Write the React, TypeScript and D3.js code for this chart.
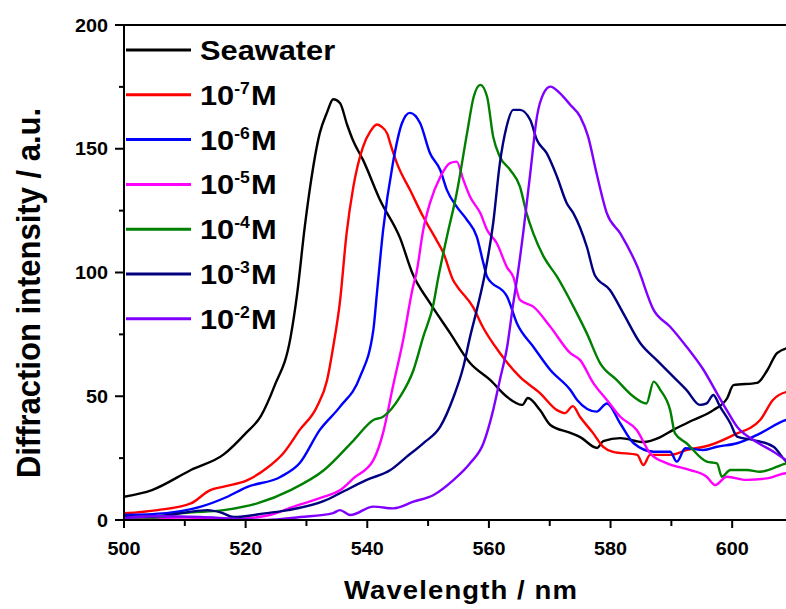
import { useMemo } from 'react';
import { scaleLinear, line, curveMonotoneX } from 'd3';

type Pt = [number, number];

// wavelength (nm), diffraction intensity (a.u.)
const seawater: Pt[] = [
  [500, 9.4], [504.6, 12.1], [511, 20.2], [516.4, 26.5], [520, 35], [522.5, 42], [524.7, 53.9],
  [527.4, 74], [528.5, 92], [529.7, 118], [530.6, 134.5], [532.2, 156.4], [533.4, 164.8],
  [534.4, 170], [535.5, 168.5], [536.7, 159.6], [537.7, 153.1], [539.3, 145.5], [542.1, 129.3],
  [545.4, 113.9], [547.4, 99.8], [550.3, 87.7], [553.6, 75.6], [556.9, 63.4], [560.2, 56.6],
  [563, 49.7], [565.5, 46.5], [566.4, 49.3], [568.4, 44.4], [570.1, 38.4], [573.4, 35.2],
  [575, 33.5], [577.8, 29.1], [578.8, 31.9], [581.6, 33.1], [585.4, 31.5], [588.2, 33.5],
  [590.3, 36.4], [593.6, 40.4], [596.9, 44.4], [599.2, 49.3], [600.2, 54.5], [604.1, 55.4],
  [605.8, 60.6], [607.4, 67.5], [610, 70],
];

const m7: Pt[] = [
  [500, 2.7], [505.5, 4], [511, 6.7], [514.1, 12], [516.4, 13.5], [520.2, 16], [523.5, 21],
  [526.2, 27], [528.9, 36.4], [531.7, 45.7], [533.4, 56.6], [534.4, 70], [535.5, 88],
  [536.6, 115.8], [537.7, 134.5], [539.3, 150.8], [540.5, 157], [541.6, 159.8], [542.3, 159],
  [543.3, 156], [543.8, 152], [544.9, 144], [547.1, 133], [549.2, 122.5], [551.4, 113],
  [552.5, 108], [554.1, 97], [554.8, 94.3], [557.4, 86], [559, 78], [561.8, 67.5],
  [565.1, 57.8], [568.4, 51.3], [571.2, 44.4], [572.5, 43.2], [573.8, 46], [575, 41.6],
  [577.1, 35.2], [578.8, 29.5], [580.4, 27.5], [584.4, 26.3], [585.4, 22.2], [586.5, 26.3],
  [589.8, 26.3], [592.6, 28.3], [596.4, 30.3], [600.2, 34.3], [604.6, 40.4], [606.7, 48.5],
  [608.9, 51.7], [610, 52],
];

const m6: Pt[] = [
  [500, 2], [507, 2.8], [512.5, 5.3], [516.9, 9.3], [520.2, 13.3], [525.7, 17.4], [528.9, 23],
  [532.2, 36.4], [535.5, 45.7], [538.8, 57.8], [541, 76.8], [541.6, 92], [542.6, 117],
  [544.2, 144], [545.7, 160.3], [547, 164.5], [548.7, 160.3], [550.3, 148.3], [552, 141.4],
  [553.1, 133.3], [554.7, 126.6], [556.4, 121.2], [558, 114.5], [559.1, 103.7], [559.7, 98.3],
  [563, 90.2], [564.6, 79.5], [567.3, 70], [570.1, 60.6], [573.4, 52.5], [574.5, 48.5],
  [577.7, 43.8], [579.4, 47.1], [581.6, 39], [583.8, 31], [587.1, 27.6], [589.8, 27.6],
  [590.9, 23.6], [592.3, 29], [595.3, 28.3], [597.5, 29.6], [600.8, 31], [604.6, 35],
  [608.9, 40.4], [610, 41],
];

const m5: Pt[] = [
  [500, 0.5], [510, 1], [518, 0.5], [524, 2], [527.4, 5], [532.9, 9.4], [535.5, 12],
  [537.8, 17], [541, 24.2], [542.6, 35.2], [544.2, 53.7], [545.9, 72.7], [547.5, 94],
  [548.1, 100], [549.2, 117.2], [550.3, 128], [552, 138.6], [553.6, 144.2], [554.7, 144.8],
  [555.8, 137.4], [556.9, 130.6], [558.6, 123.9], [559.7, 117.2], [561.3, 111.8], [563, 102],
  [564, 98.3], [565.1, 88.9], [567.3, 86.2], [570.1, 78.1], [573.4, 67.4], [575, 64.6],
  [577.2, 55.2], [579.4, 48.5], [581.6, 41.7], [584.3, 36.4], [586.5, 27], [589.3, 22.9],
  [593.1, 20.2], [595.8, 17.5], [597.2, 14.1], [599.1, 17.5], [602.4, 16.2], [605.7, 16.8],
  [608.9, 18.9], [610, 19],
];

const m4: Pt[] = [
  [500, 1.2], [505, 1], [509.7, 2.8], [516.4, 4], [521.9, 6.7], [527.4, 12.1], [532.9, 20.2],
  [537.8, 32.3], [541, 40.4], [542.6, 41.7], [545.4, 49.8], [547.6, 60.6], [549.2, 74],
  [550.9, 87.5], [551.6, 97], [553.1, 114.5], [554.7, 132], [556.4, 156.2], [557.5, 171],
  [558.6, 175.8], [559.7, 171], [560.7, 154.9], [561.8, 146.8], [563.5, 141.4], [565.1, 134.7],
  [566.2, 123.9], [567.3, 115.8], [569, 106.4], [571.2, 98.3], [573.9, 86.2], [576.1, 75.4],
  [578.3, 63.3], [581, 56.6], [583.8, 49.8], [585.9, 47.1], [587.1, 55.9], [588.2, 52.5],
  [589.8, 44.4], [590.6, 35], [592.5, 31], [595.8, 23.6], [597.5, 22.9], [598.3, 17.5],
  [599.7, 20.2], [602.4, 20.2], [604.6, 19.5], [608.9, 22.9], [610, 23.5],
];

const m3: Pt[] = [
  [500, 1.2], [505, 1.5], [510, 3], [513.7, 4], [516, 3], [518, 1.2], [523.5, 2.8], [527, 4],
  [532.9, 7.7], [535.5, 10.8], [539.9, 16.2], [543.8, 20.2], [546.5, 25.6], [549.2, 31],
  [552, 37.7], [554.2, 49.8], [555.8, 61.9], [556.9, 74], [558, 84.8], [559.3, 99],
  [560.7, 119.9], [561.8, 144.1], [562.9, 158.9], [564, 165.7], [565.1, 165.7], [566.8, 161.6],
  [567.9, 153.5], [569.5, 148.2], [571.2, 138.7], [572.8, 128], [573.9, 123.9], [576.1, 110.4],
  [577.4, 99], [579.9, 92.9], [582.1, 83.5], [584.9, 71.4], [587.6, 64.6], [590.3, 57.9],
  [592.5, 52.5], [594.7, 46.5], [595.8, 47.1], [596.9, 50.5], [598, 45.8], [599.7, 39.1],
  [600.8, 33.7], [603.5, 32.3], [606.8, 29.6], [608.9, 23.6], [610, 22],
];

const m2: Pt[] = [
  [500, 0.8], [505, 1.5], [512.5, 1.2], [518, 0.5], [523.5, 0], [529, 1.2], [534.4, 2.8],
  [535.5, 4], [537.2, 2], [541, 5.4], [544.3, 4.7], [547.6, 7.4], [550.9, 10.1], [554.2, 16.2],
  [556.9, 22.9], [559.1, 31], [560.7, 44.4], [561.8, 56.6], [563, 70], [564, 87.5],
  [564.6, 97], [565.7, 117.2], [566.8, 140.1], [567.9, 163], [569, 172.4], [570.1, 175.1],
  [571.7, 172.4], [573.4, 167.7], [575, 163], [576.3, 155], [577.7, 140.1], [579.4, 123.9],
  [581.6, 115.8], [584.3, 103], [587.1, 84.8], [589.8, 78.1], [592.5, 70], [595.3, 60.6],
  [597.5, 51.2], [599.1, 44.4], [600.8, 37.7], [603.5, 32.3], [606.8, 27.6], [608.9, 24.2],
  [610, 23],
];

const seriesData = [seawater, m7, m6, m5, m4, m3, m2];
const seriesColors = ['#000000', '#ff0000', '#0000ff', '#ff00ff', '#008000', '#000080', '#8000ff'];
const seriesExp = ['', '-7', '-6', '-5', '-4', '-3', '-2'];

const xTicks = [500, 520, 540, 560, 580, 600];
const xMinor = [510, 530, 550, 570, 590, 610];
const yTicks = [0, 50, 100, 150, 200];
const yMinor = [25, 75, 125, 175];

const font = '"Liberation Sans", Arial, sans-serif';

export default function App() {
  const width = 786;
  const height = 609;
  const left = 124;
  const top = 25;
  const bottom = 520;

  const x = useMemo(() => scaleLinear().domain([500, 610]).range([left, 793]), []);
  const y = useMemo(() => scaleLinear().domain([0, 200]).range([bottom, top]), []);

  const path = line<Pt>()
    .x((d) => x(d[0]))
    .y((d) => y(d[1]))
    .curve(curveMonotoneX);

  return (
    <svg
      width={width}
      height={height}
      style={{ position: 'absolute', left: 0, top: 0, background: '#fff' }}
      fontFamily={font}
    >
      <defs>
        <clipPath id="plot">
          <rect x={left} y={top} width={793 - left} height={bottom - top} />
        </clipPath>
      </defs>

      {/* curves */}
      <g clipPath="url(#plot)">
        {seriesData.map((d, i) => (
          <path key={i} d={path(d) ?? ''} fill="none" stroke={seriesColors[i]} strokeWidth={2.4} strokeLinejoin="round" />
        ))}
      </g>

      {/* frame */}
      <line x1={left} x2={width} y1={top} y2={top} stroke="#000" strokeWidth={2} />
      <line x1={left} x2={left} y1={top - 1} y2={bottom + 1} stroke="#000" strokeWidth={2} />
      <line x1={left - 1} x2={width} y1={bottom} y2={bottom} stroke="#000" strokeWidth={2} />

      {/* y axis */}
      {yTicks.map((t) => (
        <g key={t}>
          <line x1={left - 9} x2={left} y1={y(t)} y2={y(t)} stroke="#000" strokeWidth={2} />
          <text transform={`translate(108,${y(t) + 6.5}) scale(1.1,1)`} textAnchor="end" fontSize={18} fontWeight="bold">
            {t}
          </text>
        </g>
      ))}
      {yMinor.map((t) => (
        <line key={t} x1={left - 5} x2={left} y1={y(t)} y2={y(t)} stroke="#000" strokeWidth={2} />
      ))}

      {/* x axis */}
      {xTicks.map((t) => (
        <g key={t}>
          <line x1={x(t)} x2={x(t)} y1={bottom} y2={bottom + 8} stroke="#000" strokeWidth={2} />
          <text transform={`translate(${x(t)},555) scale(1.1,1)`} textAnchor="middle" fontSize={18} fontWeight="bold">
            {t}
          </text>
        </g>
      ))}
      {xMinor.map((t) => (
        <line key={t} x1={x(t)} x2={x(t)} y1={bottom} y2={bottom + 6} stroke="#000" strokeWidth={2} />
      ))}

      {/* axis titles */}
      <text
        transform="translate(461,599) scale(1.1,1)"
        textAnchor="middle"
        fontSize={25}
        fontWeight="bold"
        letterSpacing={1}
      >
        Wavelength / nm
      </text>
      <text
        transform="translate(40,293) scale(1.1,1) rotate(-90)"
        textAnchor="middle"
        fontSize={31}
        fontWeight="bold"
      >
        Diffraction intensity / a.u.
      </text>

      {/* legend */}
      {seriesData.map((_, i) => {
        const ly = 50 + i * 44.8;
        return (
          <g key={i}>
            <line x1={126} x2={191} y1={ly} y2={ly} stroke={seriesColors[i]} strokeWidth={3} />
            <text transform={`translate(200,${ly + 10}) scale(1.1,1)`} fontSize={28} fontWeight="bold">
              {i === 0 ? (
                'Seawater'
              ) : (
                <>
                  <tspan>10</tspan>
                  <tspan fontSize={16} dy={-11}>{seriesExp[i]}</tspan>
                  <tspan dy={11} dx={1}>M</tspan>
                </>
              )}
            </text>
          </g>
        );
      })}
    </svg>
  );
}
